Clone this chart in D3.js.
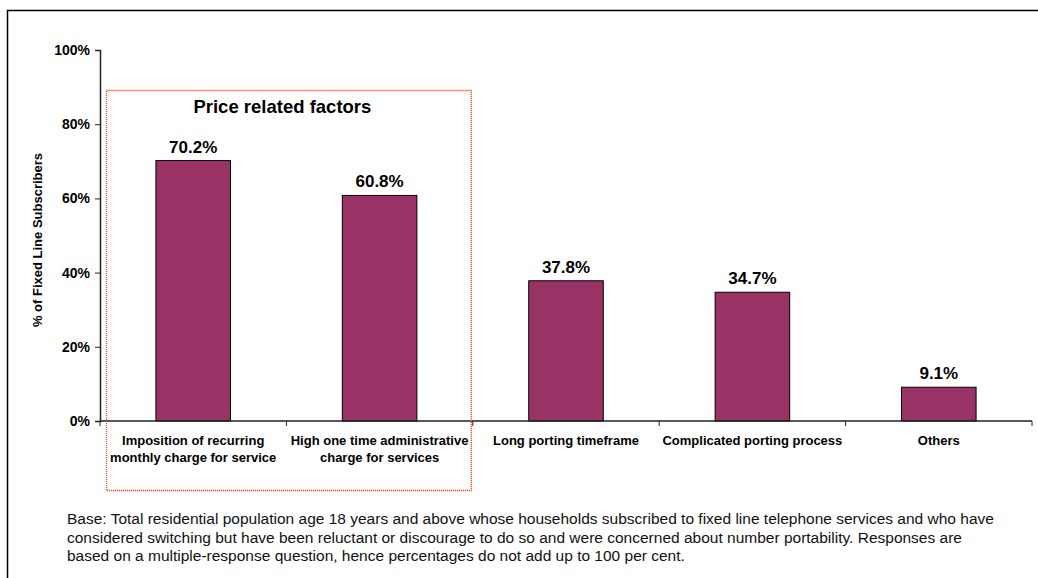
<!DOCTYPE html>
<html>
<head>
<meta charset="utf-8">
<script src="https://cdn.jsdelivr.net/npm/d3@7"></script>
<style>
  html, body { margin: 0; padding: 0; background: #fff; }
  svg { display: block; font-family: "Liberation Sans", Arial, sans-serif; }
</style>
</head>
<body>
<svg id="chart" width="1038" height="578"></svg>
<script>
// Reasons for not switching fixed line provider (multiple response)
const categories = [
  ["Imposition of recurring", "monthly charge for service"],
  ["High one time administrative", "charge for services"],
  ["Long porting timeframe"],
  ["Complicated porting process"],
  ["Others"]
];
const values = [70.2, 60.8, 37.8, 34.7, 9.1];
const yTicks = [0, 20, 40, 60, 80, 100];
const groupTitle = "Price related factors";
const axisTitle = "% of Fixed Line Subscribers";
const footnote = [
  "Base: Total residential population age 18 years and above whose households subscribed to fixed line telephone services and who have",
  "considered switching but have been reluctant or discourage to do so and were concerned about number portability. Responses are",
  "based on a multiple-response question, hence percentages do not add up to 100 per cent."
];

const svg = d3.select("#chart");
const plot = { left: 100, right: 1032, top: 50, bottom: 421 };

// outer frame (top and left edges)
svg.append("path")
  .attr("d", "M7.5,578 L7.5,10.5 L1038,10.5")
  .attr("fill", "none").attr("stroke", "#000").attr("stroke-width", 1.5);

const idx = categories.map((d, i) => i);
const x = d3.scaleBand().domain(idx).range([plot.left, plot.right]).paddingInner(0).paddingOuter(0);
const y = d3.scaleLinear().domain([0, 100]).range([plot.bottom, plot.top]);

const barW = x.bandwidth() * 0.4;

// bars
svg.append("g").selectAll("rect").data(values).join("rect")
  .attr("x", (d, i) => x(i) + (x.bandwidth() - barW) / 2)
  .attr("y", d => y(d))
  .attr("width", barW)
  .attr("height", d => y(0) - y(d))
  .attr("fill", "#993366")
  .attr("stroke", "#000").attr("stroke-width", 1);

// value labels
svg.append("g").selectAll("text").data(values).join("text")
  .attr("x", (d, i) => x(i) + x.bandwidth() / 2)
  .attr("y", d => y(d) - 8)
  .attr("text-anchor", "middle")
  .attr("font-size", 17).attr("font-weight", "bold")
  .text(d => d.toFixed(1) + "%");

// y axis
const yAxis = svg.append("g").attr("transform", `translate(${plot.left},0)`)
  .call(d3.axisLeft(y).tickValues(yTicks).tickFormat(d => d + "%").tickSize(5).tickPadding(5));
yAxis.select(".domain").attr("stroke", "#222").attr("stroke-width", 1.5);
yAxis.selectAll(".tick line").attr("stroke", "#222");
yAxis.selectAll(".tick text").attr("font-size", 14).attr("font-weight", "bold")
  .attr("font-family", "Liberation Sans, Arial, sans-serif").attr("fill", "#000");

// x axis with ticks at category boundaries
const xAxis = svg.append("g").attr("transform", `translate(0,${plot.bottom})`);
xAxis.append("line").attr("x1", plot.left).attr("x2", plot.right)
  .attr("stroke", "#222").attr("stroke-width", 1.5);
const bounds = idx.map(i => x(i)).concat([plot.right]);
xAxis.selectAll("line.tk").data(bounds).join("line").attr("class", "tk")
  .attr("x1", d => d).attr("x2", d => d).attr("y1", 0).attr("y2", 5)
  .attr("stroke", "#222");

// category labels
svg.append("g").selectAll("text").data(categories).join("text")
  .attr("x", (d, i) => x(i) + x.bandwidth() / 2)
  .attr("y", plot.bottom + 24)
  .attr("text-anchor", "middle")
  .attr("font-size", 13).attr("font-weight", "bold")
  .each(function(d) {
    const t = d3.select(this);
    d.forEach((line, k) => {
      t.append("tspan").attr("x", t.attr("x")).attr("dy", k === 0 ? 0 : 17).text(line);
    });
  });

// y axis title
svg.append("text")
  .attr("transform", "translate(42,240) rotate(-90)")
  .attr("text-anchor", "middle")
  .attr("font-size", 13).attr("font-weight", "bold")
  .text(axisTitle);

// dotted group box around the price related categories
const boxL = x(0) + 6, boxR = x(2) - 2;
svg.append("rect")
  .attr("x", boxL + 0.5).attr("y", 90.5)
  .attr("width", boxR - boxL).attr("height", 400)
  .attr("fill", "none").attr("stroke", "#ff4a1c").attr("stroke-width", 1.3)
  .attr("stroke-dasharray", "1.2,0.8");

svg.append("text")
  .attr("x", (x(0) + x(2)) / 2 - 4).attr("y", 113)
  .attr("text-anchor", "middle")
  .attr("font-size", 18.5).attr("font-weight", "bold")
  .text(groupTitle);

// footnote
svg.append("g").selectAll("text").data(footnote).join("text")
  .attr("x", 67).attr("y", (d, i) => 524 + i * 18.5)
  .attr("font-size", 15.5).attr("fill", "#111")
  .text(d => d);
</script>
</body>
</html>
